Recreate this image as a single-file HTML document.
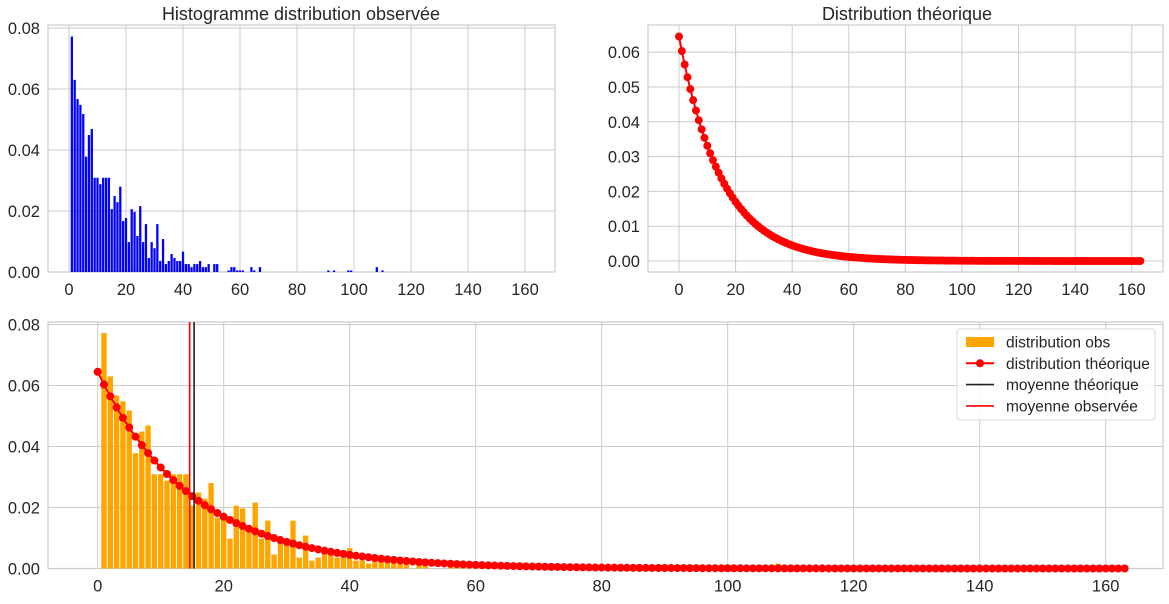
<!DOCTYPE html>
<html><head><meta charset="utf-8"><style>
body{margin:0;background:#fff;width:1169px;height:599px;overflow:hidden;font-family:"Liberation Sans","DejaVu Sans",sans-serif}
svg text{font-family:"Liberation Sans","DejaVu Sans",sans-serif;fill:#262626}
</style></head><body>
<svg id="s" width="1169" height="599" xmlns="http://www.w3.org/2000/svg"></svg>
<script>
const obsX=[1,2,3,4,5,6,7,8,9,10,11,12,13,14,15,16,17,18,19,20,21,22,23,24,25,26,27,28,29,30,31,32,33,34,35,36,37,38,39,40,41,42,43,44,45,46,47,48,49,51,52,56,57,58,59,60,61,64,65,67,91,93,98,99,108,110];
const obsY=[0.0772,0.063,0.0567,0.0548,0.0518,0.0378,0.0449,0.0469,0.0309,0.0309,0.0288,0.0309,0.0309,0.0309,0.0206,0.0249,0.0229,0.028,0.0167,0.0177,0.0098,0.0206,0.0197,0.0118,0.0216,0.0098,0.0157,0.0046,0.0098,0.0078,0.0157,0.0036,0.0108,0.0026,0.0036,0.0059,0.0046,0.0036,0.0036,0.0067,0.0026,0.0026,0.0016,0.0026,0.0026,0.0036,0.0016,0.0016,0.0026,0.0026,0.0026,0.0005,0.0016,0.0016,0.0005,0.0005,0.0005,0.0016,0.0005,0.0016,0.0005,0.0005,0.0005,0.0005,0.0016,0.0005];
const theoY=[0.0645,0.06034,0.05645,0.05281,0.0494,0.04622,0.04324,0.04045,0.03784,0.0354,0.03312,0.03098,0.02898,0.02711,0.02537,0.02373,0.0222,0.02077,0.01943,0.01818,0.017,0.01591,0.01488,0.01392,0.01302,0.01218,0.0114,0.01066,0.00998,0.00933,0.00873,0.00817,0.00764,0.00715,0.00669,0.00626,0.00585,0.00548,0.00512,0.00479,0.00448,0.00419,0.00392,0.00367,0.00343,0.00321,0.00301,0.00281,0.00263,0.00246,0.0023,0.00215,0.00202,0.00189,0.00176,0.00165,0.00154,0.00144,0.00135,0.00127,0.00118,0.00111,0.00104,0.00097,0.00091,0.00085,0.00079,0.00074,0.00069,0.00065,0.00061,0.00057,0.00053,0.0005,0.00046,0.00043,0.00041,0.00038,0.00036,0.00033,0.00031,0.00029,0.00027,0.00025,0.00024,0.00022,0.00021,0.00019,0.00018,0.00017,0.00016,0.00015,0.00014,0.00013,0.00012,0.00011,0.0001,0.0001,0.00009,0.00008,0.00008,0.00007,0.00007,0.00006,0.00006,0.00005,0.00005,0.00005,0.00004,0.00004,0.00004,0.00004,0.00003,0.00003,0.00003,0.00003,0.00002,0.00002,0.00002,0.00002,0.00002,0.00002,0.00002,0.00001,0.00001,0.00001,0.00001,0.00001,0.00001,0.00001,0.00001,0.00001,0.00001,0,0,0,0,0,0,0,0,0,0,0,0,0,0,0,0,0,0,0,0,0,0,0,0,0,0,0,0,0,0,0];
const meanTheo=15.3;
const meanObs=14.6;
const xTicks=[0,20,40,60,80,100,120,140,160];
const yTicks1=[0,0.02,0.04,0.06,0.08];
const yTicks2=[0,0.01,0.02,0.03,0.04,0.05,0.06];

const S=document.getElementById('s');const NS='http://www.w3.org/2000/svg';
function mk(t,a,p){const e=document.createElementNS(NS,t);for(const k in a)e.setAttribute(k,a[k]);(p||S).appendChild(e);return e;}
function axes(name,L,T,R,B,x0,xs,y0,ys,yt,ydec){
  const g=mk('g',{});
  
  
  const X=v=>x0+v*xs, Y=v=>y0-v*ys;
  xTicks.forEach(v=>{const l=mk('line',{x1:X(v),x2:X(v),y1:T,y2:B,stroke:'#cccccc','stroke-width':1},g);
    
    const t=mk('text',{x:X(v),y:B+23,'text-anchor':'middle','font-size':16.5},g);t.textContent=v;
    });
  yt.forEach(v=>{const l=mk('line',{x1:L,x2:R,y1:Y(v),y2:Y(v),stroke:'#cccccc','stroke-width':1},g);
    
    const t=mk('text',{x:L-8,y:Y(v)+6,'text-anchor':'end','font-size':16.5},g);t.textContent=v.toFixed(ydec);
    });
  const r=mk('rect',{x:L,y:T,width:R-L,height:B-T,fill:'none',stroke:'#cccccc','stroke-width':1.2},g);
  
  return {g,X,Y};
}
function bars(ax,color,w){obsX.forEach((v,i)=>{const h=obsY[i];const b=mk('rect',{x:ax.X(v-w/2),y:ax.Y(h),width:Math.abs(ax.X(w)-ax.X(0)),height:ax.Y(0)-ax.Y(h),fill:color},ax.g);
  });}
function theo(ax,r){const pts=theoY.map((v,i)=>ax.X(i)+','+ax.Y(v)).join(' ');
  const pl=mk('polyline',{points:pts,fill:'none',stroke:'red','stroke-width':2},ax.g);
  
  theoY.forEach((v,i)=>{const c=mk('circle',{cx:ax.X(i),cy:ax.Y(v),r:r,fill:'red'},ax.g);
    });}

const a1=axes('histogram-observed',48,25,555,272,69,2.85,272,3050,yTicks1,2);
bars(a1,'blue',0.8);
let t1=mk('text',{x:301,y:20,'text-anchor':'middle','font-size':18});t1.textContent='Histogramme distribution observée';

const a2=axes('theoretical-distribution',648,25,1163,272,679,2.83,261,3480,yTicks2,2);
theo(a2,4);
let t2=mk('text',{x:907,y:20,'text-anchor':'middle','font-size':18});t2.textContent='Distribution théorique';

const a3=axes('comparison-chart',48,322,1163,568.5,97.7,6.3,568.5,3050,yTicks1,2);
bars(a3,'orange',0.85);
theo(a3,4);
let m1=mk('line',{x1:a3.X(meanTheo),x2:a3.X(meanTheo),y1:322,y2:568.5,stroke:'#222','stroke-width':1.6},a3.g);

let m2=mk('line',{x1:a3.X(meanObs),x2:a3.X(meanObs),y1:322,y2:568.5,stroke:'red','stroke-width':1.6},a3.g);

const lg=mk('g',{});


mk('rect',{x:957,y:329,width:198,height:91,rx:3,fill:'#fff','fill-opacity':0.85,stroke:'#d8d8d8'},lg);
const labs=['distribution obs','distribution théorique','moyenne théorique','moyenne observée'];
labs.forEach((s,i)=>{const y=342+i*21.3;
  if(i==0){mk('rect',{x:966,y:y-5,width:28,height:10,fill:'orange'},lg);}
  else if(i==1){mk('line',{x1:966,x2:994,y1:y,y2:y,stroke:'red','stroke-width':2},lg);mk('circle',{cx:980,cy:y,r:4,fill:'red'},lg);}
  else mk('line',{x1:966,x2:994,y1:y,y2:y,stroke:i==2?'#222':'red','stroke-width':1.6},lg);
  const t=mk('text',{x:1006,y:y+5.5,'font-size':15.5},lg);t.textContent=s;
  });
</script>
</body></html>
